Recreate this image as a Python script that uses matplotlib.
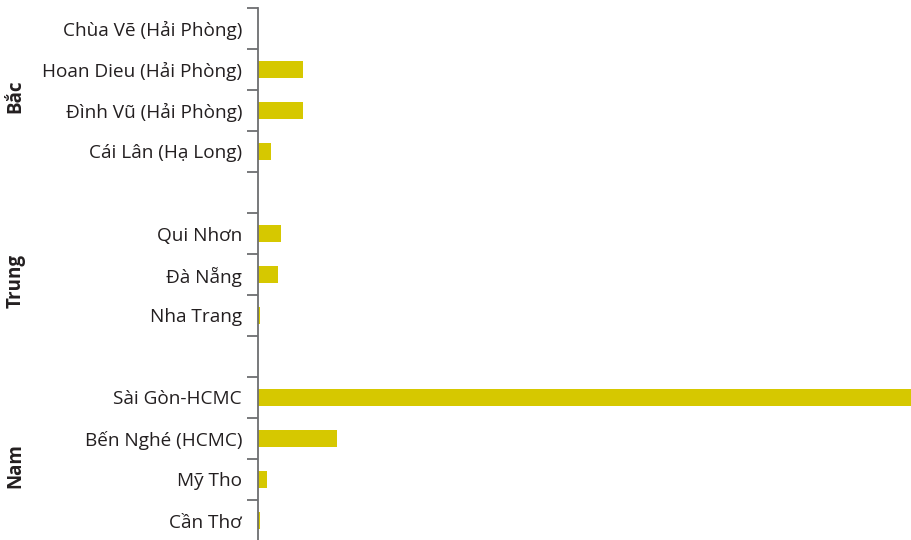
import matplotlib.pyplot as plt

groups = ["Bắc", "Trung", "Nam"]
ports = [
    ["Chùa Vẽ (Hải Phòng)", "Hoan Dieu (Hải Phòng)", "Đình Vũ (Hải Phòng)", "Cái Lân (Hạ Long)"],
    ["Qui Nhơn", "Đà Nẵng", "Nha Trang"],
    ["Sài Gòn-HCMC", "Bến Nghé (HCMC)", "Mỹ Tho", "Cần Thơ"],
]
values = [
    [0, 45, 45, 13],
    [23, 20, 2],
    [660, 79, 9, 1.5],
]

bar_color = "#d6c800"
text_color = "#231f20"
axis_color = "#6d6e71"

plt.rcParams["font.family"] = ["Open Sans", "DejaVu Sans"]

fig = plt.figure(figsize=(9.11, 5.40), dpi=100)
ax = fig.add_axes([258 / 911, -1 / 540, 653 / 911, 533 / 540])

# lay the groups out one after another, with an empty slot between them
pos = []
labels = []
vals = []
group_centers = []
slot = 0
for g, names, v in zip(groups, ports, values):
    start = slot
    for name, val in zip(names, v):
        pos.append(slot)
        labels.append(name)
        vals.append(val)
        slot += 1
    group_centers.append((start + slot - 1) / 2)
    slot += 1
n_slots = slot - 1

ax.barh(pos, vals, height=0.42, color=bar_color)

ax.set_ylim(n_slots - 0.5, -0.5)
ax.set_xlim(0, 653)

ax.set_yticks(pos)
ax.set_yticklabels(labels, fontsize=13.7, color=text_color)
ax.set_yticks([i - 0.5 for i in range(n_slots + 1)], minor=True)
ax.tick_params(axis="y", which="major", length=0, pad=11.5)
ax.tick_params(axis="y", which="minor", length=8, width=1.3, color=axis_color)

for s in ["top", "right", "bottom"]:
    ax.spines[s].set_visible(False)
ax.spines["left"].set_color(axis_color)
ax.spines["left"].set_linewidth(1.3)
ax.set_xticks([])

for g, c in zip(groups, group_centers):
    ax.text(-0.371, c + 0.15, g, rotation=90, ha="center", va="center",
            fontsize=13.5, fontweight="bold", color=text_color,
            transform=ax.get_yaxis_transform())

fig.savefig("out.png", dpi=100)
